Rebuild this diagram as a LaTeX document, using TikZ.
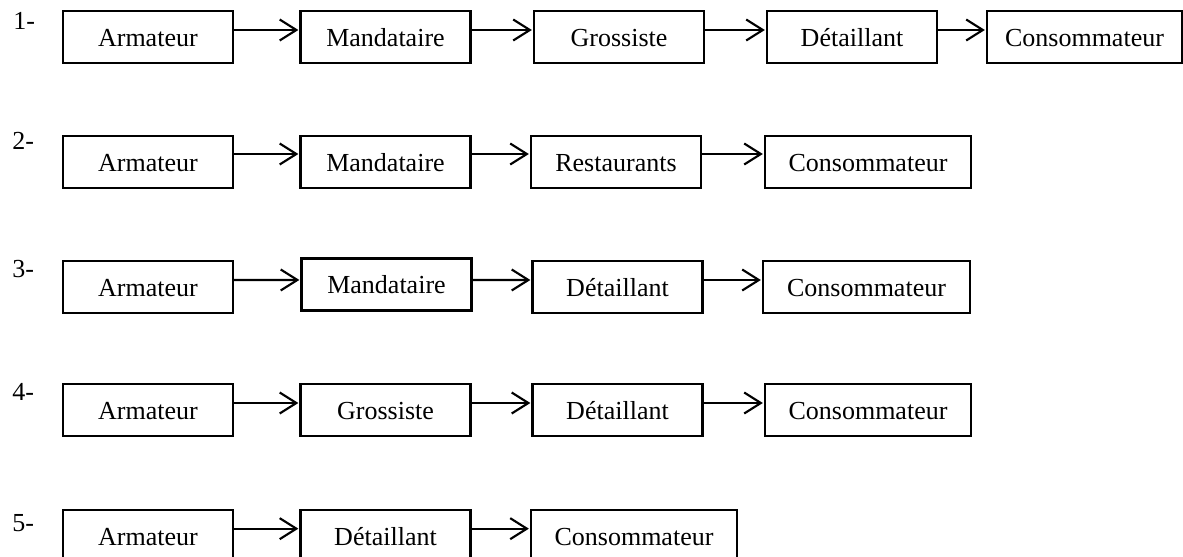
\documentclass[tikz,border=0pt]{standalone}
\usepackage{fontspec}
\setmainfont{Liberation Serif}
\usetikzlibrary{arrows.meta}
\begin{document}
\begin{tikzpicture}[x=0.75pt,y=-0.75pt,
  box/.style={draw=black,line width=1.6pt,rectangle,inner sep=0pt,
    minimum width=127.5pt,minimum height=39pt,text height=13.5pt,text depth=0pt,
    font=\fontsize{19.5}{23}\selectfont},
  wbox/.style={box,minimum width=154.5pt},
  lbl/.style={anchor=base west,inner sep=0pt,font=\fontsize{19.5}{23}\selectfont},
  arr/.style={line width=1.6pt,-{Straight Barb[length=12.5pt,width=15.75pt,line width=1.6pt]},shorten >=0.8pt}
]
\useasboundingbox (0,0) rectangle (1183,557);
% row 1
\node[lbl] (l1) at (13,29.6) {1-};
\node[box] (a1) at (147.9,37) {Armateur};
\node[box] (b1) at (385.5,37) {Mandataire};
\node[box] (c1) at (619,37) {Grossiste};
\node[box] (d1) at (852,37) {Détaillant};
\node[box,minimum width=146.25pt] (e1) at (1084.5,37) {Consommateur};
\draw[arr] ([yshift=5.25pt]a1.east) -- ([yshift=5.25pt]b1.west);
\draw[arr] ([yshift=5.25pt]b1.east) -- ([yshift=5.25pt]c1.west);
\draw[arr] ([yshift=5.25pt]c1.east) -- ([yshift=5.25pt]d1.west);
\draw[arr] ([yshift=5.25pt]d1.east) -- ([yshift=5.25pt]e1.west);
% row 2
\node[lbl] (l2) at (12,149) {2-};
\node[box] (a2) at (148,162) {Armateur};
\node[box] (b2) at (385.5,162) {Mandataire};
\node[box] (c2) at (616,162) {Restaurants};
\node[wbox] (d2) at (868,162) {Consommateur};
\draw[arr] ([yshift=6pt]a2.east) -- ([yshift=6pt]b2.west);
\draw[arr] ([yshift=6pt]b2.east) -- ([yshift=6pt]c2.west);
\draw[arr] ([yshift=6pt]c2.east) -- ([yshift=6pt]d2.west);
% row 3
\node[lbl] (l3) at (12,277.6) {3-};
\node[box] (a3) at (148,287) {Armateur};
\node[box] (b3) at (386.5,284.5) {Mandataire};
\node[box] (c3) at (617.5,287) {Détaillant};
\node[box,minimum width=155.25pt] (d3) at (866.5,287) {Consommateur};
\draw[arr] ([yshift=5.25pt]a3.east) -- ([yshift=3.4pt]b3.west);
\draw[arr] ([yshift=3.4pt]b3.east) -- ([yshift=5.25pt]c3.west);
\draw[arr] ([yshift=5.25pt]c3.east) -- ([yshift=5.25pt]d3.west);
% row 4
\node[lbl] (l4) at (12,400.6) {4-};
\node[box] (a4) at (148,410) {Armateur};
\node[box] (b4) at (385.5,410) {Grossiste};
\node[box] (c4) at (617.5,410) {Détaillant};
\node[wbox] (d4) at (868,410) {Consommateur};
\draw[arr] ([yshift=5.25pt]a4.east) -- ([yshift=5.25pt]b4.west);
\draw[arr] ([yshift=5.25pt]b4.east) -- ([yshift=5.25pt]c4.west);
\draw[arr] ([yshift=5.25pt]c4.east) -- ([yshift=5.25pt]d4.west);
% row 5
\node[lbl] (l5) at (12,531.6) {5-};
\node[box] (a5) at (148,536) {Armateur};
\node[box] (b5) at (385.5,536) {Détaillant};
\node[wbox] (c5) at (634,536) {Consommateur};
\draw[arr] ([yshift=5.5pt]a5.east) -- ([yshift=5.5pt]b5.west);
\draw[arr] ([yshift=5.5pt]b5.east) -- ([yshift=5.5pt]c5.west);
\end{tikzpicture}
\end{document}
